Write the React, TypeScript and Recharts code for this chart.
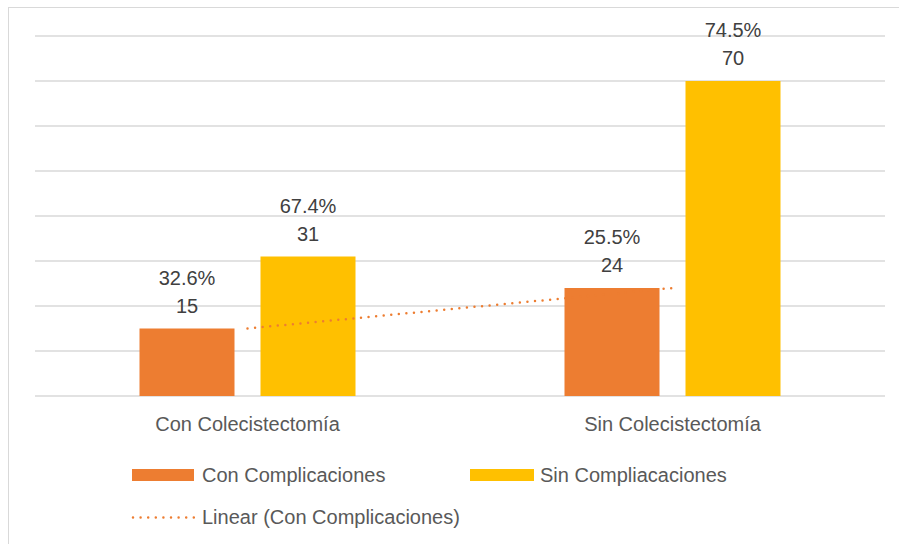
import React from 'react';
import { ComposedChart, Bar, Line, XAxis, YAxis, CartesianGrid, Customized } from 'recharts';

const categories = ['Con Colecistectomía', 'Sin Colecistectomía'];
const conComplicaciones = [15, 24];
const sinComplicaciones = [31, 70];
const conPct = ['32.6%', '25.5%'];
const sinPct = ['67.4%', '74.5%'];
const yTicks = [0, 10, 20, 30, 40, 50, 60, 70, 80];
const legendNames = ['Con Complicaciones', 'Sin Compliacaciones', 'Linear (Con Complicaciones)'];

const ORANGE = '#ED7D31';
const YELLOW = '#FFC000';
const GRID = '#D9D9D9';
const TEXT = '#595959';
const LABEL = '#404040';
const FONT = '"Liberation Sans", Arial, sans-serif';

// Linear trendline (least squares) over category index
function linearFit(values: number[]): number[] {
  const n = values.length;
  const xs = values.map((_, i) => i + 1);
  const mx = xs.reduce((a, b) => a + b, 0) / n;
  const my = values.reduce((a, b) => a + b, 0) / n;
  let num = 0, den = 0;
  xs.forEach((x, i) => { num += (x - mx) * (values[i] - my); den += (x - mx) * (x - mx); });
  const slope = den === 0 ? 0 : num / den;
  const icpt = my - slope * mx;
  return xs.map((x) => icpt + slope * x);
}
const trend = linearFit(conComplicaciones);

const data = categories.map((c, i) => ({
  name: c,
  con: conComplicaciones[i],
  sin: sinComplicaciones[i],
  trend: trend[i],
}));

const makeLabel = (pcts: string[]) => (props: any) => {
  const { x, y, width, value, index } = props;
  const cx = Number(x) + Number(width) / 2;
  return (
    <g key={`lbl-${index}`}>
      <text x={cx} y={Number(y) - 44} textAnchor="middle" fill={LABEL} fontSize={20} fontFamily={FONT}>
        {pcts[index]}
      </text>
      <text x={cx} y={Number(y) - 16} textAnchor="middle" fill={LABEL} fontSize={20} fontFamily={FONT}>
        {value}
      </text>
    </g>
  );
};

const CategoryTick = (props: any) => {
  const { x, y, payload } = props;
  return (
    <text x={x} y={Number(y) + 27} textAnchor="middle" fill={TEXT} fontSize={20} fontFamily={FONT}>
      {payload.value}
    </text>
  );
};

const Decor = () => (
  <g>
    <rect x={8.5} y={7.5} width={2000} height={2000} fill="none" stroke={GRID} strokeWidth={1} />
    <rect x={132} y={469} width={62} height={12} fill={ORANGE} />
    <text x={202} y={482} fill={TEXT} fontSize={20} fontFamily={FONT}>{legendNames[0]}</text>
    <rect x={470} y={469} width={64} height={12} fill={YELLOW} />
    <text x={540} y={482} fill={TEXT} fontSize={20} fontFamily={FONT}>{legendNames[1]}</text>
    <line x1={133} y1={517.5} x2={194} y2={517.5} stroke={ORANGE} strokeWidth={2.5} strokeDasharray="0 7.6" strokeLinecap="round" />
    <text x={202} y={523.5} fill={TEXT} fontSize={20} fontFamily={FONT}>{legendNames[2]}</text>
  </g>
);

export default function App() {
  return (
    <div style={{ position: 'absolute', left: 0, top: 0, width: 899, height: 544, background: '#fff' }}>
      <ComposedChart
        width={899}
        height={544}
        data={data}
        margin={{ top: 36, right: 14, left: 35, bottom: 118 }}
        barCategoryGap={104.5}
        barGap={26}
      >
        <Customized component={Decor} />
        <CartesianGrid vertical={false} stroke={GRID} strokeWidth={1.5} />
        <XAxis dataKey="name" axisLine={false} tickLine={false} height={30} tick={<CategoryTick />} interval={0} />
        <YAxis hide domain={[0, 80]} ticks={yTicks} />
        <Bar dataKey="con" fill={ORANGE} isAnimationActive={false} label={makeLabel(conPct)} />
        <Bar dataKey="sin" fill={YELLOW} isAnimationActive={false} label={makeLabel(sinPct)} />
        <Line
          dataKey="trend"
          stroke={ORANGE}
          strokeWidth={2.5}
          strokeDasharray="0 7.6"
          strokeLinecap="round"
          dot={false}
          activeDot={false}
          isAnimationActive={false}
        />
      </ComposedChart>
    </div>
  );
}
